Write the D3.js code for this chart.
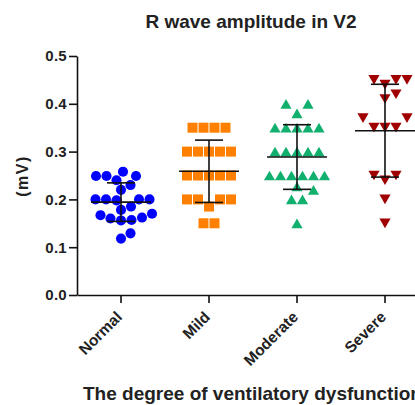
<!DOCTYPE html>
<html>
<head>
<meta charset="utf-8">
<script src="https://cdn.jsdelivr.net/npm/d3@7"></script>
<style>
  body { margin: 0; background: #fff; }
  svg { display: block; font-family: "Liberation Sans", Arial, sans-serif; }
</style>
</head>
<body>
<svg id="svg" width="415" height="405"></svg>
<script>
const categories = ['Normal', 'Mild', 'Moderate', 'Severe'];
const normalValues = [0.258, 0.249, 0.249, 0.249, 0.24, 0.23, 0.22, 0.2, 0.2, 0.2, 0.2, 0.198,
    0.185, 0.178, 0.17, 0.167, 0.162, 0.16, 0.157, 0.156, 0.129, 0.118];
const mildValues = [0.35, 0.35, 0.35, 0.35, 0.3, 0.3, 0.3, 0.3, 0.3, 0.25, 0.25, 0.25, 0.25, 0.25,
    0.2, 0.2, 0.2, 0.2, 0.185, 0.15, 0.15];
const moderateValues = [0.4, 0.4, 0.38, 0.35, 0.35, 0.35, 0.35, 0.35, 0.3, 0.3, 0.3, 0.3, 0.3,
    0.25, 0.25, 0.25, 0.25, 0.25, 0.25, 0.227, 0.22, 0.2, 0.2, 0.15];
const severeValues = [0.45, 0.45, 0.45, 0.44, 0.42, 0.41, 0.37, 0.37, 0.35, 0.35, 0.35,
    0.25, 0.25, 0.24, 0.2, 0.15];
const yTicks = [0, 0.1, 0.2, 0.3, 0.4, 0.5];

const groups = [
    {name: 'Normal', values: normalValues, color: '#0000ff', shape: 'circle'},
    {name: 'Mild', values: mildValues, color: '#ff8000', shape: 'square'},
    {name: 'Moderate', values: moderateValues, color: '#11b06e', shape: 'triangle'},
    {name: 'Severe', values: severeValues, color: '#a00000', shape: 'down'}
];

const svg = d3.select('#svg');
const plot = {left: 77, right: 429, top: 56, bottom: 295};

const yScale = d3.scaleLinear().domain([0, 0.5]).range([plot.bottom, plot.top]);
const xScale = d3.scaleBand().domain(categories).range([plot.left, plot.right]).padding(0);

// spread points sideways so they do not overlap (column scatter)
function spread(values, sepX, sepY, round) {
    const placed = [];
    const out = new Array(values.length);
    const idx = d3.range(values.length).sort((a, b) => values[a] - values[b]);
    const collide = (x, y) => placed.some(p => round
        ? Math.hypot(p.x - x, p.y - y) < sepX - 0.01
        : Math.abs(p.x - x) < sepX - 0.01 && Math.abs(p.y - y) < sepY);
    d3.groups(idx, i => values[i]).forEach(([v, ids]) => {
        const yv = yScale(v);
        const n = ids.length;
        const pattern = d3.range(n).map(k => (k - (n - 1) / 2) * sepX);
        if (pattern.every(x => !collide(x, yv))) {
            ids.forEach((id, k) => { out[id] = pattern[k]; });
            pattern.forEach(x => placed.push({x: x, y: yv}));
        } else {
            ids.forEach(id => {
                let x = 0;
                for (let d = 0; d < 200; d += 0.5) {
                    if (!collide(d, yv)) { x = d; break; }
                    if (!collide(-d, yv)) { x = -d; break; }
                }
                out[id] = x;
                placed.push({x: x, y: yv});
            });
        }
    });
    return out;
}

const symbols = {
    circle: d3.symbol().type(d3.symbolCircle).size(80)(),
    square: d3.symbol().type(d3.symbolSquare).size(100)(),
    triangle: d3.symbol().type(d3.symbolTriangle).size(54)(),
    down: d3.symbol().type(d3.symbolTriangle).size(54)()
};
const triH = Math.sqrt(54 / (Math.sqrt(3) / 4)) * Math.sqrt(3) / 2;

// axes
const yAxis = svg.append('g')
    .attr('transform', 'translate(' + plot.left + ',0)')
    .call(d3.axisLeft(yScale).tickValues(yTicks).tickFormat(d3.format('.1f'))
        .tickSize(8).tickSizeOuter(0).tickPadding(2));
yAxis.selectAll('text')
    .style('font-size', '15px').style('font-weight', 'bold').style('letter-spacing', '0.3px')
    .attr('fill', '#222');

const xAxis = svg.append('g')
    .attr('transform', 'translate(0,' + plot.bottom + ')')
    .call(d3.axisBottom(xScale).tickSize(8).tickSizeOuter(0));
xAxis.selectAll('text')
    .attr('x', 0).attr('y', 0).attr('dy', 0)
    .attr('transform', 'translate(2,23) rotate(-45)')
    .style('text-anchor', 'end')
    .style('font-size', '15.5px').style('font-weight', 'bold')
    .attr('fill', '#222');

svg.selectAll('.domain, .tick line').attr('stroke', '#111').attr('stroke-width', 1.6);

// points
groups.forEach(g => {
    const cx = xScale(g.name) + xScale.bandwidth() / 2;
    const offs = spread(g.values, g.shape === 'circle' ? 10.5 : 11, 10.5, g.shape === 'circle');
    svg.append('g').selectAll('path').data(g.values).enter()
        .append('path')
        .attr('d', symbols[g.shape])
        .attr('fill', g.color)
        .attr('transform', (d, i) => {
            const x = cx + offs[i];
            const y = yScale(d);
            if (g.shape === 'triangle') return 'translate(' + x + ',' + (y + triH / 6) + ')';
            if (g.shape === 'down') return 'translate(' + x + ',' + (y - triH / 6) + ') rotate(180)';
            return 'translate(' + x + ',' + y + ')';
        });
});

// mean and SD bars
groups.forEach(g => {
    const cx = xScale(g.name) + xScale.bandwidth() / 2;
    const m = d3.mean(g.values);
    const sd = d3.deviation(g.values);
    const bar = svg.append('g').attr('stroke', '#111').attr('stroke-width', 1.6);
    bar.append('line').attr('x1', cx).attr('x2', cx).attr('y1', yScale(m + sd)).attr('y2', yScale(m - sd));
    bar.append('line').attr('x1', cx - 30).attr('x2', cx + 30).attr('y1', yScale(m)).attr('y2', yScale(m));
    [m + sd, m - sd].forEach(v => {
        bar.append('line').attr('x1', cx - 14).attr('x2', cx + 14).attr('y1', yScale(v)).attr('y2', yScale(v));
    });
});

// titles
svg.append('text')
    .attr('x', 251).attr('y', 28)
    .attr('text-anchor', 'middle')
    .style('font-size', '19px').style('font-weight', 'bold')
    .attr('fill', '#222')
    .text('R wave amplitude in V2');

svg.append('text')
    .attr('transform', 'translate(28,176) rotate(-90)')
    .attr('text-anchor', 'middle')
    .style('font-size', '16px').style('font-weight', 'bold').style('letter-spacing', '1.5px')
    .attr('fill', '#222')
    .text('(mV)');

// the reference cuts this title off at the right edge as well
svg.append('text')
    .attr('x', 83).attr('y', 400)
    .style('font-size', '19px').style('font-weight', 'bold')
    .attr('fill', '#222')
    .text('The degree of ventilatory dysfunction');
</script>
</body>
</html>
